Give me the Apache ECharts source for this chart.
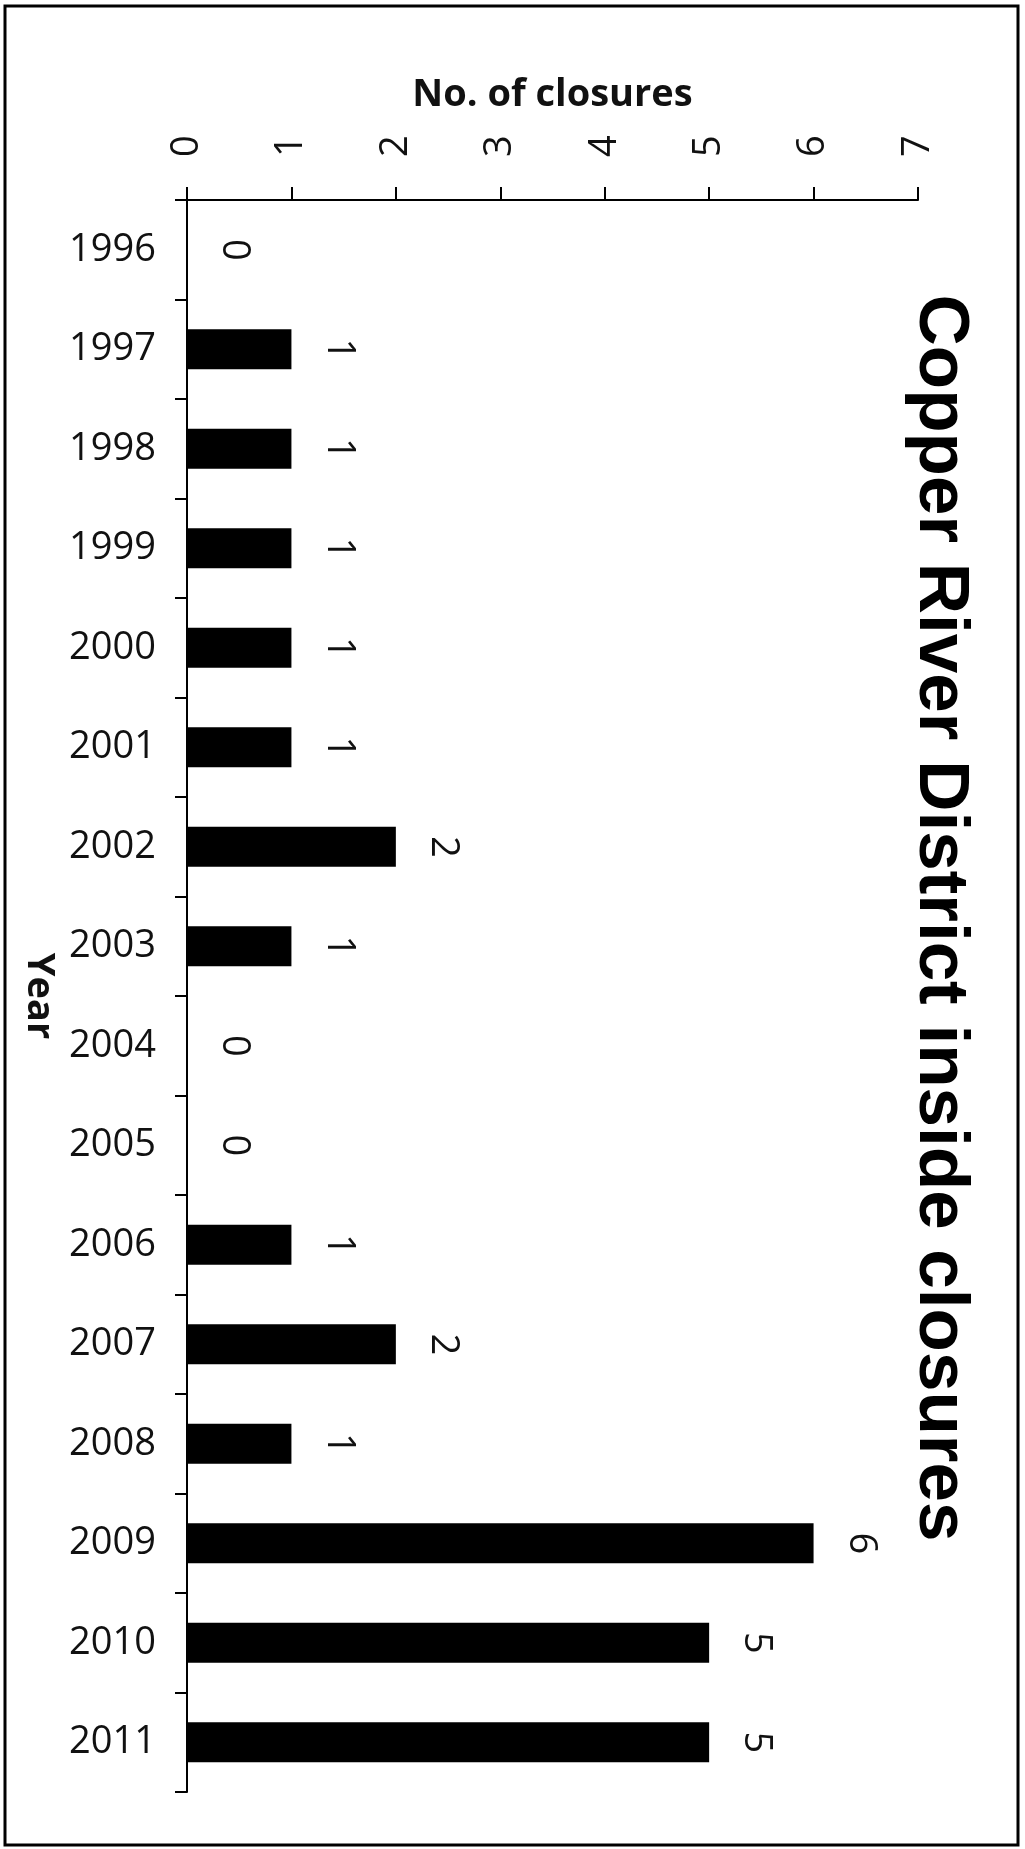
<!DOCTYPE html>
<html>
<head>
<meta charset="utf-8">
<title>Copper River District inside closures</title>
<script src="https://cdn.jsdelivr.net/npm/echarts@6/dist/echarts.min.js"></script>
<style>
  html, body { margin: 0; padding: 0; background: #fff; }
  #chart { width: 1025px; height: 1849px; }
</style>
</head>
<body>
<div id="chart"></div>
<script>
// Inside closures per season, Copper River District
const years = ['1996', '1997', '1998', '1999', '2000', '2001', '2002', '2003',
               '2004', '2005', '2006', '2007', '2008', '2009', '2010', '2011'];
const closures = [0, 1, 1, 1, 1, 1, 2, 1, 0, 0, 1, 2, 1, 6, 5, 5];
const countTicks = { min: 0, max: 7, interval: 1 };

const titleText = 'Copper River District inside closures';
const valueAxisName = 'No. of closures';
const categoryAxisName = 'Year';

const ink = '#111';
const labelFont = '"Open Sans", "Noto Sans", sans-serif';

const chart = echarts.init(document.getElementById('chart'), null, { renderer: 'canvas' });

chart.setOption({
  backgroundColor: '#fff',
  animation: false,
  grid: {
    left: 187,
    top: 200,
    right: 107,
    bottom: 57,
    containLabel: false,
    outerBoundsMode: 'none'
  },
  xAxis: {
    type: 'value',
    position: 'top',
    min: countTicks.min,
    max: countTicks.max,
    interval: countTicks.interval,
    name: valueAxisName,
    nameLocation: 'middle',
    nameGap: 86,
    nameTextStyle: { fontFamily: labelFont, fontWeight: 'bold', fontSize: 38, color: ink },
    axisLine: { show: true, lineStyle: { color: '#000', width: 2 } },
    axisTick: { show: true, length: 13, lineStyle: { color: '#000', width: 2 } },
    splitLine: { show: false },
    axisLabel: {
      rotate: -90,
      margin: 43,
      fontFamily: labelFont,
      fontSize: 38,
      color: ink
    }
  },
  yAxis: {
    type: 'category',
    data: years,
    inverse: true,
    name: categoryAxisName,
    nameLocation: 'middle',
    nameRotate: -90,
    nameGap: 127,
    nameTextStyle: { fontFamily: labelFont, fontWeight: 'bold', fontSize: 38, color: ink },
    axisLine: { show: true, lineStyle: { color: '#000', width: 2 } },
    axisTick: { show: true, alignWithLabel: false, length: 12, lineStyle: { color: '#000', width: 2 } },
    splitLine: { show: false },
    axisLabel: {
      margin: 31,
      fontFamily: labelFont,
      fontSize: 38,
      color: ink
    }
  },
  series: [{
    type: 'bar',
    data: closures,
    barWidth: 40,
    itemStyle: { color: '#000' },
    label: {
      show: true,
      position: 'right',
      distance: 47,
      rotate: -90,
      align: 'center',
      verticalAlign: 'middle',
      fontFamily: labelFont,
      fontSize: 38,
      color: ink
    }
  }],
  graphic: [
    {
      type: 'rect',
      shape: { x: 5, y: 6, width: 1013, height: 1839 },
      style: { fill: 'none', stroke: '#000', lineWidth: 3 },
      silent: true
    },
    {
      type: 'text',
      x: 940,
      y: 918,
      rotation: -Math.PI / 2,
      style: {
        text: titleText,
        fontFamily: '"Liberation Sans", Arial, sans-serif',
        fontWeight: 'bold',
        fontSize: 71,
        fill: '#000',
        align: 'center',
        verticalAlign: 'middle'
      },
      silent: true
    }
  ]
});
</script>
</body>
</html>
